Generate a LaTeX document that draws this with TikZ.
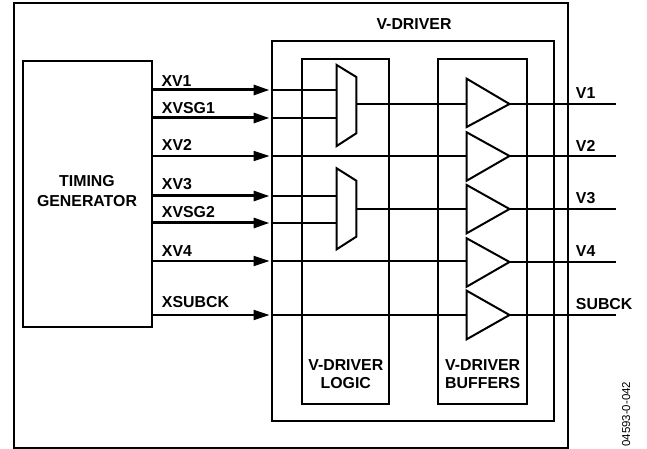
\documentclass[tikz,border=0pt]{standalone}
\usepackage{fontspec}
\setmainfont{Liberation Sans}
\usetikzlibrary{arrows.meta}
\tikzset{x=0.75pt,y=-0.75pt,
  box/.style={draw=black,line width=1.5pt,fill=none},
  sig/.style={draw=black,line width=1.5pt},
  insig/.style={draw=black,line width=2.25pt,-{Triangle[length=12pt,width=7.5pt]}},
  insigthin/.style={draw=black,line width=1.5pt,-{Triangle[length=12pt,width=7.5pt]}},
  lbl/.style={font=\bfseries\fontsize{11.9}{14}\selectfont,inner sep=0pt,anchor=base west,text=black},
  ctr/.style={font=\bfseries\fontsize{11.9}{14}\selectfont,inner sep=0pt,align=center,anchor=base,text=black},
  buf/.style={draw=black,line width=1.5pt,fill=white,line join=miter},
}
\begin{document}
\begin{tikzpicture}
\useasboundingbox (0,0) rectangle (647,449);
\path[fill=white] (0,0) rectangle (647,449);
\draw[box] (13.5,3.3) rectangle (567.7,447.7);
\draw[box] (272,41) rectangle (553.7,420.7);
\draw[box] (302,58.7) rectangle (389.3,404.3);
\draw[box] (438,58.7) rectangle (526.7,404.3);
\draw[box] (22.5,61) rectangle (152,327.5);
\node[ctr] (vd) at (414,29.3) {V-DRIVER};
\node[ctr,font=\bfseries\fontsize{11.9}{15}\selectfont] (tg) at (87,206.5) {TIMING\\GENERATOR};
\node[ctr] (vl) at (345.8,388.7) {V-DRIVER\\LOGIC};
\node[ctr] (vb) at (482.7,388.7) {V-DRIVER\\BUFFERS};
% coordinates
\coordinate (i1) at (152.7,90);
\coordinate (i2) at (152.7,118);
\coordinate (i3) at (152,156);
\coordinate (i4) at (152.7,196);
\coordinate (i5) at (152.7,223);
\coordinate (i6) at (152,261);
\coordinate (i7) at (152.7,315);
\coordinate (e1) at (269.5,90);
\coordinate (e2) at (269.5,118);
\coordinate (e3) at (269.5,156);
\coordinate (e4) at (269.5,196);
\coordinate (e5) at (269.5,223);
\coordinate (e6) at (269.5,261);
\coordinate (e7) at (269.5,315);
\draw[insig] (i1) -- (e1);
\draw[insig] (i2) -- (e2);
\draw[insigthin] (i3) -- (e3);
\draw[insig] (i4) -- (e4);
\draw[insig] (i5) -- (e5);
\draw[insigthin] (i6) -- (e6);
\draw[insigthin] (i7) -- (e7);
% muxes
\path[buf] (336.7,65) -- (356.3,77) -- (356.3,133.3) -- (336.7,146) -- cycle;
\path[buf] (336.7,168.3) -- (356.3,180.7) -- (356.3,236.7) -- (336.7,249.3) -- cycle;
% lines into muxes
\coordinate (m1a) at (336.7,90);
\coordinate (m1b) at (336.7,118);
\coordinate (m2a) at (336.7,196);
\coordinate (m2b) at (336.7,223);
\coordinate (s1) at (272,90);
\coordinate (s2) at (272,118);
\coordinate (s3) at (272,156);
\coordinate (s4) at (272,196);
\coordinate (s5) at (272,223);
\coordinate (s6) at (272,261);
\coordinate (s7) at (272,315);
\draw[sig] (s1) -- (m1a);
\draw[sig] (s2) -- (m1b);
\draw[sig] (s4) -- (m2a);
\draw[sig] (s5) -- (m2b);
% buffers
\path[buf] (466.7,78.7) -- (509.5,104) -- (466.7,127) -- cycle;
\path[buf] (466.7,132.3) -- (509.5,156) -- (466.7,180.7) -- cycle;
\path[buf] (466.7,185) -- (509.5,209) -- (466.7,233.3) -- cycle;
\path[buf] (466.7,238.3) -- (509.5,262) -- (466.7,286.7) -- cycle;
\path[buf] (466.7,290.7) -- (509.5,315) -- (466.7,339.3) -- cycle;
\coordinate (b1) at (466.7,104);
\coordinate (b2) at (466.7,156);
\coordinate (b3) at (466.7,209);
\coordinate (b4) at (466.7,261);
\coordinate (b5) at (466.7,315);
\coordinate (o1) at (509.5,104);
\coordinate (o2) at (509.5,156);
\coordinate (o3) at (509.5,209);
\coordinate (o4) at (509.5,262);
\coordinate (o5) at (509.5,315);
\coordinate (x1) at (615.7,104);
\coordinate (x2) at (615.7,156);
\coordinate (x3) at (615.7,209);
\coordinate (x4) at (615.7,262);
\coordinate (x5) at (615.7,315);
\coordinate (mo1) at (356.3,104);
\coordinate (mo2) at (356.3,209);
\draw[sig] (mo1) -- (b1);
\draw[sig] (s3) -- (b2);
\draw[sig] (mo2) -- (b3);
\draw[sig] (s6) -- (b4);
\draw[sig] (s7) -- (b5);
\draw[sig] (o1) -- (x1);
\draw[sig] (o2) -- (x2);
\draw[sig] (o3) -- (x3);
\draw[sig] (o4) -- (x4);
\draw[sig] (o5) -- (x5);
% labels
\node[lbl] (l1) at (161.3,86.7) {XV1};
\node[lbl] (l2) at (161.7,114) {XVSG1};
\node[lbl] (l3) at (161.7,151) {XV2};
\node[lbl] (l4) at (161.7,190) {XV3};
\node[lbl] (l5) at (161.7,217.7) {XVSG2};
\node[lbl] (l6) at (161.7,256.7) {XV4};
\node[lbl] (l7) at (161.7,307.7) {XSUBCK};
\node[lbl] (r1) at (575.7,99) {V1};
\node[lbl] (r2) at (575.7,151.7) {V2};
\node[lbl] (r3) at (575.7,204) {V3};
\node[lbl] (r4) at (575.7,256.7) {V4};
\node[lbl] (r5) at (575.7,310) {SUBCK};
\node[font=\fontsize{8.6}{9}\selectfont,rotate=90,inner sep=0pt,anchor=base west] (id) at (630,447) {04593-0-042};
\end{tikzpicture}
\end{document}
